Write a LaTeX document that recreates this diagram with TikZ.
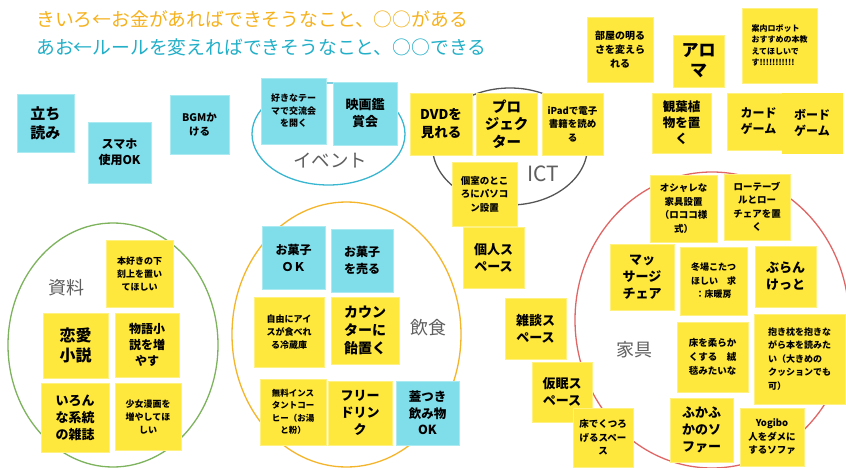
\documentclass[tikz,border=0pt]{standalone}
\usepackage{fontspec}
\setmainfont{Noto Sans CJK JP}
\definecolor{notey}{HTML}{FFE83E}
\definecolor{noteb}{HTML}{80DEEA}
\definecolor{hdrorange}{HTML}{F6B21E}
\definecolor{hdrteal}{HTML}{22AFC8}
\definecolor{lblgray}{HTML}{5F5F5F}
\definecolor{elteal}{HTML}{3AB7D0}
\definecolor{elgray}{HTML}{555555}
\definecolor{elgreen}{HTML}{7DB35C}
\definecolor{elorange}{HTML}{F5B52A}
\definecolor{elred}{HTML}{E06666}
\newcommand\fs[2]{\fontsize{#1}{#2}\selectfont}
\tikzset{
  ynote/.style={fill=notey, draw=notey!65!white, line width=0.5pt, inner sep=0pt, align=center, text=black},
  bnote/.style={fill=noteb, draw=noteb!65!white, line width=0.5pt, inner sep=0pt, align=center, text=black},
  sz/.style 2 args={minimum width=#1, minimum height=#2},
  grouplbl/.style={text=lblgray, inner sep=0pt},
  ring/.style={line width=1.3pt}
}
\begin{document}
\begin{tikzpicture}[x=1pt,y=-1pt]
\useasboundingbox (0,0) rectangle (846,468);
\fill[white] (0,0) rectangle (846,468);

% header
\node[anchor=west, text=hdrorange, inner sep=0pt, font=\fs{18.8}{20}] (h1) at (36,19) {きいろ←お金があればできそうなこと、○○がある};
\node[anchor=west, text=hdrteal, inner sep=0pt, font=\fs{18.8}{20}] (h2) at (36,47) {あお←ルールを変えればできそうなこと、○○できる};

% group rings
\begin{scope}
\clip (0,0) rectangle (846,468);
\draw[ring, elteal] (328.5,134) ellipse [x radius=76.5, y radius=51];
\draw[ring, elgray] (510,146.5) ellipse [x radius=77.5, y radius=58.5];
\draw[ring, elgreen] (113,345) ellipse [x radius=105, y radius=122];
\draw[ring, elorange] (346.5,334.5) ellipse [x radius=114.5, y radius=132.5];
\draw[ring, elred] (712,320) ellipse [x radius=137, y radius=148];
\end{scope}

% group labels
\node[grouplbl, font=\fs{18.5}{20}] (lev) at (330,161) {イベント};
\node[grouplbl, font=\fs{21}{22}] (lict) at (543,174) {ICT};
\node[grouplbl, font=\fs{18}{20}] (lsr) at (66,288) {資料};
\node[grouplbl, font=\fs{18}{20}] (lin) at (428,328) {飲食};
\node[grouplbl, font=\fs{18}{20}] (lka) at (634,350) {家具};

% blue notes (top left)
\node[bnote, sz={57}{58}, font=\bfseries\fs{15}{19}] (n1) at (45.5,123) {立ち\\読み};
\node[bnote, sz={63}{61}, font=\bfseries\fs{12}{16}] (n2) at (119.5,152.5) {スマホ\\使用OK};
\node[bnote, sz={59}{59}, font=\bfseries\fs{10.5}{14}] (n3) at (199.5,124.5) {BGMか\\ける};
\node[bnote, sz={65}{66}, font=\bfseries\fs{9}{12.5}] (n4) at (293.5,111) {好きなテー\\マで交流会\\を開く};
\node[bnote, sz={64}{63}, font=\bfseries\fs{13}{17}] (n5) at (365,113.5) {映画鑑\\賞会};

% ICT notes
\node[ynote, sz={62}{62}, font=\bfseries\fs{13.5}{18}] (n6) at (441,124) {DVDを\\見れる};
\node[ynote, sz={61}{62}, font=\bfseries\fs{14.5}{17.5}] (n7) at (506.5,124) {プロ\\ジェク\\ター};
\node[ynote, sz={61}{62}, font=\bfseries\fs{9.5}{13.5}] (n8) at (572.5,124) {iPadで電子\\書籍を読め\\る};
\node[ynote, sz={65}{64}, font=\bfseries\fs{9.5}{13.5}] (n9) at (484.5,194) {個室のとこ\\ろにパソコ\\ン設置};
\node[ynote, sz={61}{61}, font=\bfseries\fs{13}{17}] (n10) at (493.5,257.5) {個人ス\\ペース};
\node[ynote, sz={61}{61}, font=\bfseries\fs{13}{17}] (n11) at (535.5,328.5) {雑談ス\\ペース};
\node[ynote, sz={60}{60}, font=\bfseries\fs{13}{17}] (n12) at (562,392) {仮眠ス\\ペース};
\node[ynote, sz={60}{59}, font=\bfseries\fs{9.5}{13.5}] (n13) at (603,437.5) {床でくつろ\\げるスペー\\ス};

% top right notes
\node[ynote, sz={66}{65}, font=\bfseries\fs{10}{14}] (n14) at (620,49.5) {部屋の明る\\さを変えら\\れる};
\node[ynote, sz={51}{52}, font=\bfseries\fs{17}{20}] (n15) at (698.5,61) {アロ\\マ};
\node[ynote, sz={75}{75}, font=\bfseries\fs{8}{11.5}, align=left] (n16) at (779.5,45.5) {案内ロボット\\おすすめの本教\\えてほしいで\\す!!!!!!!!!!!};
\node[ynote, sz={59}{60}, font=\bfseries\fs{12.5}{16}] (n17) at (681.5,123) {観葉植\\物を置\\く};
\node[ynote, sz={63}{57}, font=\bfseries\fs{12}{16}] (n18) at (758.5,121.5) {カード\\ゲーム};
\node[ynote, draw=notey, sz={60}{60}, font=\bfseries\fs{12}{16}] (n19) at (812,123) {ボード\\ゲーム};

% 資料 notes
\node[ynote, sz={67}{67}, font=\bfseries\fs{9}{13}] (n20) at (139.5,273.5) {本好きの下\\刻上を置い\\てほしい};
\node[ynote, sz={65}{65}, font=\bfseries\fs{16}{20.5}] (n21) at (75.5,345.5) {恋愛\\小説};
\node[ynote, sz={64}{64}, font=\bfseries\fs{12}{16}] (n22) at (147,345) {物語小\\説を増\\やす};
\node[ynote, sz={68}{69}, font=\bfseries\fs{13}{17}] (n23) at (75,417.5) {いろん\\な系統\\の雑誌};
\node[ynote, sz={66}{67}, font=\bfseries\fs{9}{13}] (n24) at (148,416.5) {少女漫画を\\増やしてほ\\しい};

% 飲食 notes
\node[bnote, sz={63}{63}, font=\bfseries\fs{12}{17}] (n25) at (293.5,257.5) {お菓子\\ＯＫ};
\node[bnote, sz={62}{63}, font=\bfseries\fs{12}{17}] (n26) at (362,260.5) {お菓子\\を売る};
\node[ynote, sz={70}{70}, font=\bfseries\fs{9}{13}] (n27) at (289,332) {自由にアイ\\スが食べれ\\る冷蔵庫};
\node[ynote, sz={68}{67}, font=\bfseries\fs{14}{18}] (n28) at (365,330.5) {カウン\\ターに\\飴置く};
\node[ynote, sz={66}{66}, font=\bfseries\fs{8.5}{12.5}] (n29) at (293,412) {無料インス\\タントコー\\ヒー（お湯\\と粉）};
\node[ynote, sz={64}{64}, font=\bfseries\fs{13}{17}] (n30) at (360,413) {フリー\\ドリン\\ク};
\node[bnote, sz={63}{64}, font=\bfseries\fs{12.5}{16.5}] (n31) at (427.5,413) {蓋つき\\飲み物\\OK};

% 家具 notes
\node[ynote, sz={67}{67}, font=\bfseries\fs{9.5}{13.5}] (n32) at (683.5,208.5) {オシャレな\\家具設置\\（ロココ様\\式）};
\node[ynote, sz={66}{66}, font=\bfseries\fs{9.5}{13.5}] (n33) at (757,207) {ローテーブ\\ルとロー\\チェアを置\\く};
\node[ynote, sz={64}{66}, font=\bfseries\fs{13}{17}] (n34) at (642,277) {マッ\\サージ\\チェア};
\node[ynote, sz={67}{68}, font=\bfseries\fs{9}{13.5}] (n35) at (713.5,281) {冬場こたつ\\ほしい　求\\：床暖房};
\node[ynote, sz={61}{61}, font=\bfseries\fs{13}{17}] (n36) at (785.5,276.5) {ぶらん\\けっと};
\node[ynote, sz={71}{70}, font=\bfseries\fs{9.5}{14}] (n37) at (712.5,357) {床を柔らか\\くする　絨\\毯みたいな};
\node[ynote, sz={91}{90}, font=\bfseries\fs{9}{13.5}, align=left] (n38) at (799.5,359) {抱き枕を抱きな\\がら本を読みた\\い（大きめの\\クッションでも\\可）};
\node[ynote, sz={63}{64}, font=\bfseries\fs{13}{17}] (n39) at (701.5,430) {ふかふ\\かのソ\\ファー};
\node[ynote, sz={64}{58}, font=\bfseries\fs{9.5}{13.5}] (n40) at (772,437) {Yogibo\\人をダメに\\するソファ};
\end{tikzpicture}
\end{document}
